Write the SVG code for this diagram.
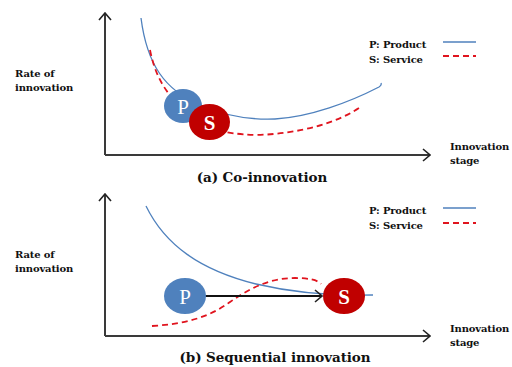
<svg xmlns="http://www.w3.org/2000/svg" width="512" height="367" viewBox="0 0 512 367">
<defs>
<style>
.lbl{font-family:"DejaVu Serif",serif;font-weight:bold;font-size:10px;fill:#111;letter-spacing:-0.15px}
.ttl{font-family:"DejaVu Serif",serif;font-weight:bold;font-size:13.5px;fill:#111;letter-spacing:-0.1px}
.axis{stroke:#3a3a3a;stroke-width:2;fill:none}
.prod{stroke:#4f81bd;stroke-width:1.3;fill:none}
.serv{stroke:#e0141e;stroke-width:1.8;fill:none;stroke-dasharray:6,4}
.pc{fill:#4f81bd}
.sc{fill:#c00000}
.ct{font-family:"Liberation Serif",serif;font-size:21px;fill:#fff;text-anchor:middle}
</style>
<marker id="chev" viewBox="-9 -8 10 16" markerWidth="10" markerHeight="16" refX="0" refY="0" orient="auto" markerUnits="userSpaceOnUse">
<path d="M-7,-6 L0,0 L-7,6" fill="none" stroke="#222" stroke-width="1.6"/>
</marker>
</defs>
<rect width="512" height="367" fill="#fff"/>

<g id="panel-a">
<g id="axes-a">
<path class="axis" d="M105,155 V13" marker-end="url(#chev)"/>
<path class="axis" d="M105,155 H430" marker-end="url(#chev)"/>
</g>
<text class="lbl" x="15" y="77">Rate of</text>
<text class="lbl" x="15" y="91">innovation</text>
<text class="lbl" x="450" y="150">Innovation</text>
<text class="lbl" x="450" y="164">stage</text>
<g id="curves-a">
<path class="prod" d="M141,18 C147,65 165,90 200,105 C225,116 250,120 275,119 C310,117 350,102 379,87 Q382,85 381,83"/>
<path class="serv" d="M150,50 C155,75 165,95 190,115 C205,127 220,134 256,135 C300,134 340,122 362,106"/>
</g>
<g id="node-P-a">
<ellipse class="pc" cx="183" cy="106" rx="19" ry="17"/>
<text class="ct" x="183" y="114">P</text>
</g>
<g id="node-S-a">
<ellipse class="sc" cx="209.5" cy="122" rx="20.5" ry="18"/>
<text class="ct" x="209.5" y="130" font-weight="bold">S</text>
</g>
<g id="legend-a">
<text class="lbl" x="369" y="48">P: Product</text>
<text class="lbl" x="369" y="63">S: Service</text>
<line class="prod" x1="443" y1="42" x2="476" y2="42"/>
<line class="serv" x1="443" y1="56" x2="476" y2="56"/>
</g>
<text class="ttl" x="262" y="182" text-anchor="middle">(a) Co-innovation</text>
</g>

<g id="panel-b">
<g id="axes-b">
<path class="axis" d="M105,336 V194" marker-end="url(#chev)"/>
<path class="axis" d="M105,336 H430" marker-end="url(#chev)"/>
</g>
<text class="lbl" x="15" y="258">Rate of</text>
<text class="lbl" x="15" y="272">innovation</text>
<text class="lbl" x="450" y="332">Innovation</text>
<text class="lbl" x="450" y="346">stage</text>
<g id="curves-b">
<path class="prod" d="M146,206 C165,245 200,270 256,284 C290,292 330,296 373,295"/>
<path class="serv" d="M152,326 C180,324 205,320 230,302 C250,288 270,278 295,278 C308,278 318,280 321,284"/>
</g>
<g id="connectors">
<path d="M205,296 H322" stroke="#111" stroke-width="2" fill="none" marker-end="url(#chev)"/>
</g>
<g id="node-P-b">
<ellipse class="pc" cx="185" cy="296" rx="21" ry="18"/>
<text class="ct" x="185" y="304">P</text>
</g>
<g id="node-S-b">
<ellipse class="sc" cx="344" cy="296" rx="21" ry="18"/>
<text class="ct" x="344" y="304" font-weight="bold">S</text>
</g>
<g id="legend-b">
<text class="lbl" x="369" y="214">P: Product</text>
<text class="lbl" x="369" y="229">S: Service</text>
<line class="prod" x1="443" y1="208" x2="476" y2="208"/>
<line class="serv" x1="443" y1="223" x2="476" y2="223"/>
</g>
<text class="ttl" x="275" y="362" text-anchor="middle">(b) Sequential innovation</text>
</g>
</svg>
